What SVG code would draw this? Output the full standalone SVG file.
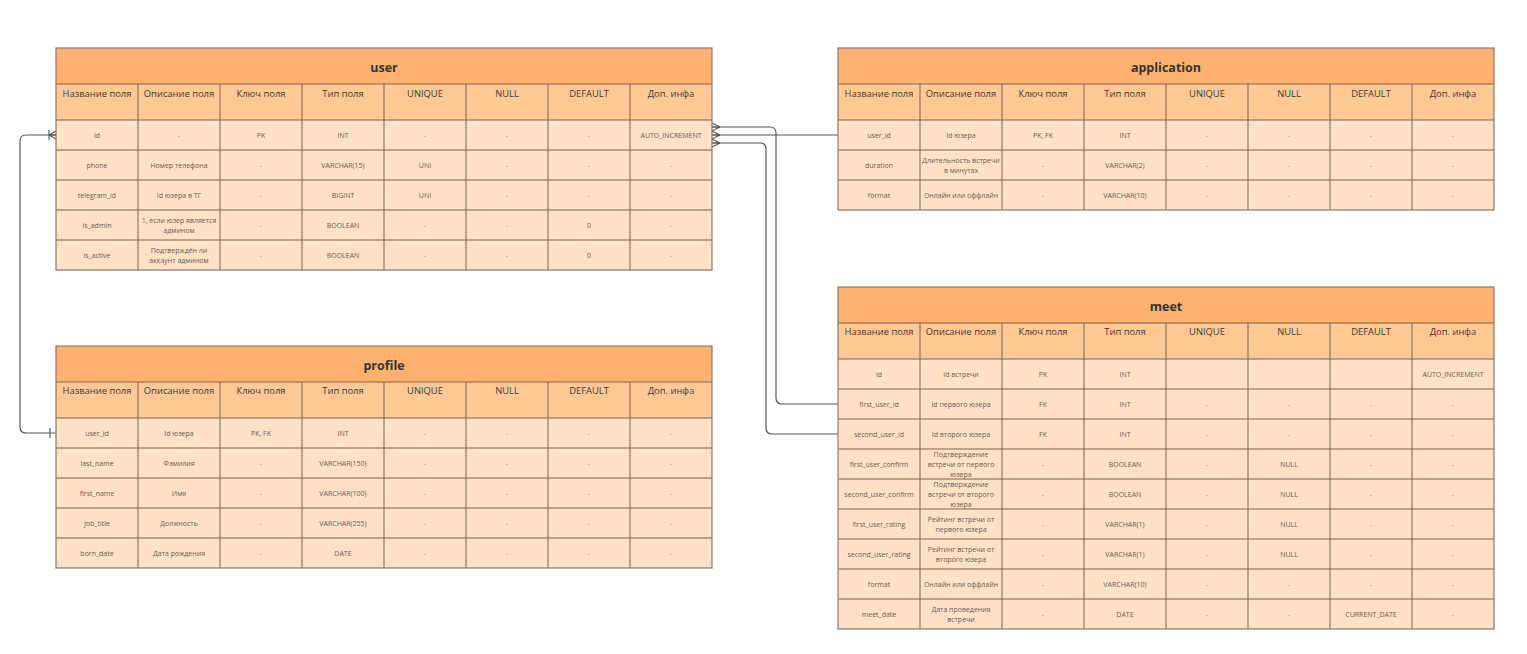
<svg xmlns="http://www.w3.org/2000/svg" width="1527" height="654" viewBox="0 0 1527 654">
<defs>
<style>
.bg{fill:#ffffff}
.tb{fill:#FFB270}
.hd{fill:#FFC894}
.dt{fill:#FFE2C6}
.grid{stroke:#7a6350;stroke-width:1;fill:none}
.frame{stroke:#8c7766;stroke-width:1.2;fill:none}
text{font-family:"Open Sans","Noto Sans","DejaVu Sans",sans-serif;text-anchor:middle}
.t{font-size:12.5px;font-weight:bold;fill:#333333}
.h{font-size:9.4px;fill:#3a3a3a}
.d{font-size:7px;fill:#665a52}
.m{font-size:7px;fill:#a89888}
.conn{fill:none;stroke:#555555;stroke-width:1.2}
</style>
<marker id="many" viewBox="-10 -6 12 12" markerWidth="12" markerHeight="12" refX="0" refY="0" orient="auto" markerUnits="userSpaceOnUse">
<path d="M -8 0 L 0 -4 M -8 0 L 0 0 M -8 0 L 0 4" fill="none" stroke="#555555" stroke-width="1.1"/>
</marker>
<marker id="onemany" viewBox="-10 -6 12 12" markerWidth="12" markerHeight="12" refX="0" refY="0" orient="auto" markerUnits="userSpaceOnUse">
<path d="M -7 0 L 0 -4 M -7 0 L 0 0 M -7 0 L 0 4 M -7 -5 L -7 5" fill="none" stroke="#555555" stroke-width="1.1"/>
</marker>
<marker id="one" viewBox="-10 -6 12 12" markerWidth="12" markerHeight="12" refX="0" refY="0" orient="auto-start-reverse" markerUnits="userSpaceOnUse">
<path d="M -6 -5 L -6 5" fill="none" stroke="#555555" stroke-width="1.1"/>
</marker>
</defs>
<rect class="bg" x="0" y="0" width="1527" height="654"/>

<g id="connectors">
<path class="conn" d="M 56 433 H 26 Q 20 433 20 427 V 141 Q 20 135 26 135 H 56" marker-start="url(#one)" marker-end="url(#onemany)"/>
<path class="conn" d="M 838 135 H 712" marker-end="url(#many)"/>
<path class="conn" d="M 838 404 H 782 Q 776 404 776 398 V 133 Q 776 127 770 127 H 712" marker-end="url(#many)"/>
<path class="conn" d="M 838 434 H 772 Q 766 434 766 428 V 149 Q 766 143 760 143 H 712" marker-end="url(#many)"/>
</g>

<g id="user" transform="translate(56,48)">
<rect class="tb" x="0" y="0" width="656" height="36"/>
<rect class="hd" x="0" y="36" width="656" height="36"/>
<rect class="dt" x="0" y="72" width="656" height="150"/>
<path class="grid" d="M0 36H656M0 72H656M0 102H656M0 132H656M0 162H656M0 192H656M82 36V222M164 36V222M246 36V222M328 36V222M410 36V222M492 36V222M574 36V222"/>
<rect class="frame" x="0" y="0" width="656" height="222"/>
<text class="t" x="328" y="24">user</text>
<text class="h" x="41" y="48.5">Название поля</text><text class="h" x="123" y="48.5">Описание поля</text><text class="h" x="205" y="48.5">Ключ поля</text><text class="h" x="287" y="48.5">Тип поля</text><text class="h" x="369" y="48.5">UNIQUE</text><text class="h" x="451" y="48.5">NULL</text><text class="h" x="533" y="48.5">DEFAULT</text><text class="h" x="615" y="48.5">Доп. инфа</text>
<text class="d" x="41" y="89.5">id</text><text class="m" x="123" y="89.5">-</text><text class="d" x="205" y="89.5">PK</text><text class="d" x="287" y="89.5">INT</text><text class="m" x="369" y="89.5">-</text><text class="m" x="451" y="89.5">-</text><text class="m" x="533" y="89.5">-</text><text class="d" x="615" y="89.5">AUTO_INCREMENT</text>
<text class="d" x="41" y="119.5">phone</text><text class="d" x="123" y="119.5">Номер телефона</text><text class="m" x="205" y="119.5">-</text><text class="d" x="287" y="119.5">VARCHAR(15)</text><text class="d" x="369" y="119.5">UNI</text><text class="m" x="451" y="119.5">-</text><text class="m" x="533" y="119.5">-</text><text class="m" x="615" y="119.5">-</text>
<text class="d" x="41" y="149.5">telegram_id</text><text class="d" x="123" y="149.5">Id юзера в ТГ</text><text class="m" x="205" y="149.5">-</text><text class="d" x="287" y="149.5">BIGINT</text><text class="d" x="369" y="149.5">UNI</text><text class="m" x="451" y="149.5">-</text><text class="m" x="533" y="149.5">-</text><text class="m" x="615" y="149.5">-</text>
<text class="d" x="41" y="179.5">is_admin</text><text class="d" x="123" y="174.5">1, если юзер является</text><text class="d" x="123" y="184.5">админом</text><text class="m" x="205" y="179.5">-</text><text class="d" x="287" y="179.5">BOOLEAN</text><text class="m" x="369" y="179.5">-</text><text class="m" x="451" y="179.5">-</text><text class="d" x="533" y="179.5">0</text><text class="m" x="615" y="179.5">-</text>
<text class="d" x="41" y="209.5">is_active</text><text class="d" x="123" y="204.5">Подтверждён ли</text><text class="d" x="123" y="214.5">аккаунт админом</text><text class="m" x="205" y="209.5">-</text><text class="d" x="287" y="209.5">BOOLEAN</text><text class="m" x="369" y="209.5">-</text><text class="m" x="451" y="209.5">-</text><text class="d" x="533" y="209.5">0</text><text class="m" x="615" y="209.5">-</text>
</g>

<g id="application" transform="translate(838,48)">
<rect class="tb" x="0" y="0" width="656" height="36"/>
<rect class="hd" x="0" y="36" width="656" height="36"/>
<rect class="dt" x="0" y="72" width="656" height="90"/>
<path class="grid" d="M0 36H656M0 72H656M0 102H656M0 132H656M82 36V162M164 36V162M246 36V162M328 36V162M410 36V162M492 36V162M574 36V162"/>
<rect class="frame" x="0" y="0" width="656" height="162"/>
<text class="t" x="328" y="24">application</text>
<text class="h" x="41" y="48.5">Название поля</text><text class="h" x="123" y="48.5">Описание поля</text><text class="h" x="205" y="48.5">Ключ поля</text><text class="h" x="287" y="48.5">Тип поля</text><text class="h" x="369" y="48.5">UNIQUE</text><text class="h" x="451" y="48.5">NULL</text><text class="h" x="533" y="48.5">DEFAULT</text><text class="h" x="615" y="48.5">Доп. инфа</text>
<text class="d" x="41" y="89.5">user_id</text><text class="d" x="123" y="89.5">Id юзера</text><text class="d" x="205" y="89.5">PK, FK</text><text class="d" x="287" y="89.5">INT</text><text class="m" x="369" y="89.5">-</text><text class="m" x="451" y="89.5">-</text><text class="m" x="533" y="89.5">-</text><text class="m" x="615" y="89.5">-</text>
<text class="d" x="41" y="119.5">duration</text><text class="d" x="123" y="114.5">Длительность встречи</text><text class="d" x="123" y="124.5">в минутах</text><text class="m" x="205" y="119.5">-</text><text class="d" x="287" y="119.5">VARCHAR(2)</text><text class="m" x="369" y="119.5">-</text><text class="m" x="451" y="119.5">-</text><text class="m" x="533" y="119.5">-</text><text class="m" x="615" y="119.5">-</text>
<text class="d" x="41" y="149.5">format</text><text class="d" x="123" y="149.5">Онлайн или оффлайн</text><text class="m" x="205" y="149.5">-</text><text class="d" x="287" y="149.5">VARCHAR(10)</text><text class="m" x="369" y="149.5">-</text><text class="m" x="451" y="149.5">-</text><text class="m" x="533" y="149.5">-</text><text class="m" x="615" y="149.5">-</text>
</g>

<g id="meet" transform="translate(838,287)">
<rect class="tb" x="0" y="0" width="656" height="36"/>
<rect class="hd" x="0" y="36" width="656" height="36"/>
<rect class="dt" x="0" y="72" width="656" height="270"/>
<path class="grid" d="M0 36H656M0 72H656M0 102H656M0 132H656M0 162H656M0 192H656M0 222H656M0 252H656M0 282H656M0 312H656M82 36V342M164 36V342M246 36V342M328 36V342M410 36V342M492 36V342M574 36V342"/>
<rect class="frame" x="0" y="0" width="656" height="342"/>
<text class="t" x="328" y="23.5">meet</text>
<text class="h" x="41" y="47.5">Название поля</text><text class="h" x="123" y="47.5">Описание поля</text><text class="h" x="205" y="47.5">Ключ поля</text><text class="h" x="287" y="47.5">Тип поля</text><text class="h" x="369" y="47.5">UNIQUE</text><text class="h" x="451" y="47.5">NULL</text><text class="h" x="533" y="47.5">DEFAULT</text><text class="h" x="615" y="47.5">Доп. инфа</text>
<text class="d" x="41" y="89.5">id</text><text class="d" x="123" y="89.5">Id встречи</text><text class="d" x="205" y="89.5">PK</text><text class="d" x="287" y="89.5">INT</text><text class="d" x="615" y="89.5">AUTO_INCREMENT</text>
<text class="d" x="41" y="119.5">first_user_id</text><text class="d" x="123" y="119.5">Id первого юзера</text><text class="d" x="205" y="119.5">FK</text><text class="d" x="287" y="119.5">INT</text><text class="m" x="369" y="119.5">-</text><text class="m" x="451" y="119.5">-</text><text class="m" x="533" y="119.5">-</text><text class="m" x="615" y="119.5">-</text>
<text class="d" x="41" y="149.5">second_user_id</text><text class="d" x="123" y="149.5">Id второго юзера</text><text class="d" x="205" y="149.5">FK</text><text class="d" x="287" y="149.5">INT</text><text class="m" x="369" y="149.5">-</text><text class="m" x="451" y="149.5">-</text><text class="m" x="533" y="149.5">-</text><text class="m" x="615" y="149.5">-</text>
<text class="d" x="41" y="179.5">first_user_confirm</text><text class="d" x="123" y="169.5">Подтверждение</text><text class="d" x="123" y="179.5">встречи от первого</text><text class="d" x="123" y="189.5">юзера</text><text class="m" x="205" y="179.5">-</text><text class="d" x="287" y="179.5">BOOLEAN</text><text class="m" x="369" y="179.5">-</text><text class="d" x="451" y="179.5">NULL</text><text class="m" x="533" y="179.5">-</text><text class="m" x="615" y="179.5">-</text>
<text class="d" x="41" y="209.5">second_user_confirm</text><text class="d" x="123" y="199.5">Подтверждение</text><text class="d" x="123" y="209.5">встречи от второго</text><text class="d" x="123" y="219.5">юзера</text><text class="m" x="205" y="209.5">-</text><text class="d" x="287" y="209.5">BOOLEAN</text><text class="m" x="369" y="209.5">-</text><text class="d" x="451" y="209.5">NULL</text><text class="m" x="533" y="209.5">-</text><text class="m" x="615" y="209.5">-</text>
<text class="d" x="41" y="239.5">first_user_rating</text><text class="d" x="123" y="234.5">Рейтинг встречи от</text><text class="d" x="123" y="244.5">первого юзера</text><text class="m" x="205" y="239.5">-</text><text class="d" x="287" y="239.5">VARCHAR(1)</text><text class="m" x="369" y="239.5">-</text><text class="d" x="451" y="239.5">NULL</text><text class="m" x="533" y="239.5">-</text><text class="m" x="615" y="239.5">-</text>
<text class="d" x="41" y="269.5">second_user_rating</text><text class="d" x="123" y="264.5">Рейтинг встречи от</text><text class="d" x="123" y="274.5">второго юзера</text><text class="m" x="205" y="269.5">-</text><text class="d" x="287" y="269.5">VARCHAR(1)</text><text class="m" x="369" y="269.5">-</text><text class="d" x="451" y="269.5">NULL</text><text class="m" x="533" y="269.5">-</text><text class="m" x="615" y="269.5">-</text>
<text class="d" x="41" y="299.5">format</text><text class="d" x="123" y="299.5">Онлайн или оффлайн</text><text class="m" x="205" y="299.5">-</text><text class="d" x="287" y="299.5">VARCHAR(10)</text><text class="m" x="369" y="299.5">-</text><text class="m" x="451" y="299.5">-</text><text class="m" x="533" y="299.5">-</text><text class="m" x="615" y="299.5">-</text>
<text class="d" x="41" y="329.5">meet_date</text><text class="d" x="123" y="324.5">Дата проведения</text><text class="d" x="123" y="334.5">встречи</text><text class="m" x="205" y="329.5">-</text><text class="d" x="287" y="329.5">DATE</text><text class="m" x="369" y="329.5">-</text><text class="m" x="451" y="329.5">-</text><text class="d" x="533" y="329.5">CURRENT_DATE</text><text class="m" x="615" y="329.5">-</text>
</g>

<g id="profile" transform="translate(56,346)">
<rect class="tb" x="0" y="0" width="656" height="36"/>
<rect class="hd" x="0" y="36" width="656" height="36"/>
<rect class="dt" x="0" y="72" width="656" height="150"/>
<path class="grid" d="M0 36H656M0 72H656M0 102H656M0 132H656M0 162H656M0 192H656M82 36V222M164 36V222M246 36V222M328 36V222M410 36V222M492 36V222M574 36V222"/>
<rect class="frame" x="0" y="0" width="656" height="222"/>
<text class="t" x="328" y="23.5">profile</text>
<text class="h" x="41" y="47.5">Название поля</text><text class="h" x="123" y="47.5">Описание поля</text><text class="h" x="205" y="47.5">Ключ поля</text><text class="h" x="287" y="47.5">Тип поля</text><text class="h" x="369" y="47.5">UNIQUE</text><text class="h" x="451" y="47.5">NULL</text><text class="h" x="533" y="47.5">DEFAULT</text><text class="h" x="615" y="47.5">Доп. инфа</text>
<text class="d" x="41" y="89.5">user_id</text><text class="d" x="123" y="89.5">Id юзера</text><text class="d" x="205" y="89.5">PK, FK</text><text class="d" x="287" y="89.5">INT</text><text class="m" x="369" y="89.5">-</text><text class="m" x="451" y="89.5">-</text><text class="m" x="533" y="89.5">-</text><text class="m" x="615" y="89.5">-</text>
<text class="d" x="41" y="119.5">last_name</text><text class="d" x="123" y="119.5">Фамилия</text><text class="m" x="205" y="119.5">-</text><text class="d" x="287" y="119.5">VARCHAR(150)</text><text class="m" x="369" y="119.5">-</text><text class="m" x="451" y="119.5">-</text><text class="m" x="533" y="119.5">-</text><text class="m" x="615" y="119.5">-</text>
<text class="d" x="41" y="149.5">first_name</text><text class="d" x="123" y="149.5">Имя</text><text class="m" x="205" y="149.5">-</text><text class="d" x="287" y="149.5">VARCHAR(100)</text><text class="m" x="369" y="149.5">-</text><text class="m" x="451" y="149.5">-</text><text class="m" x="533" y="149.5">-</text><text class="m" x="615" y="149.5">-</text>
<text class="d" x="41" y="179.5">job_title</text><text class="d" x="123" y="179.5">Должность</text><text class="m" x="205" y="179.5">-</text><text class="d" x="287" y="179.5">VARCHAR(255)</text><text class="m" x="369" y="179.5">-</text><text class="m" x="451" y="179.5">-</text><text class="m" x="533" y="179.5">-</text><text class="m" x="615" y="179.5">-</text>
<text class="d" x="41" y="209.5">born_date</text><text class="d" x="123" y="209.5">Дата рождения</text><text class="m" x="205" y="209.5">-</text><text class="d" x="287" y="209.5">DATE</text><text class="m" x="369" y="209.5">-</text><text class="m" x="451" y="209.5">-</text><text class="m" x="533" y="209.5">-</text><text class="m" x="615" y="209.5">-</text>
</g>
</svg>
